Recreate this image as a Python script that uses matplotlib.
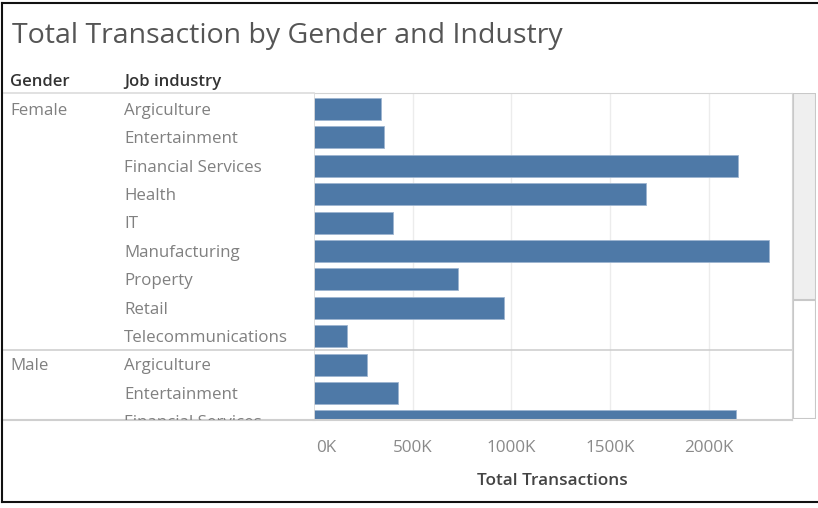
import matplotlib.pyplot as plt
import matplotlib.transforms as mtransforms
from matplotlib.patches import Rectangle
from matplotlib.lines import Line2D

plt.rcParams['font.family'] = ['Open Sans', 'DejaVu Sans']

generos = ["Female", "Male"]
industrias = ["Argiculture", "Entertainment", "Financial Services", "Health", "IT",
              "Manufacturing", "Property", "Retail", "Telecommunications"]
# total de transacciones (miles)
female_k = [341, 356, 2147, 1683, 399, 2306, 728, 965, 169]
male_k = [267, 426, 2139]
ticks_k = [0, 500, 1000, 1500, 2000]

W, H = 818, 508
fig = plt.figure(figsize=(W / 100, H / 100), dpi=100)


def caja(x0, y0, x1, y1):
    # pixeles (origen arriba-izquierda) -> fraccion de figura
    return [x0 / W, 1 - y1 / H, (x1 - x0) / W, (y1 - y0) / H]


fila0, paso = 109, 28.4
top, bottom = 93, 419.5
y_top = -0.5 - (fila0 - paso / 2 - top) / paso
y_bot = (bottom - fila0) / paso

filas = [(g, ind, v) for g, vals in zip(generos, [female_k, male_k])
         for ind, v in zip(industrias, vals)]
pos = list(range(len(filas)))
valores = [f[2] for f in filas]

ax = fig.add_axes(caja(314, top, 791.5, bottom))
ax.barh(pos, valores, height=0.78, color="#4e79a7", edgecolor="#9db5d0", linewidth=0.6, zorder=3)
ax.set_xlim(0, (791.5 - 314) / 0.1973)
ax.set_ylim(y_bot, y_top)
for t in ticks_k[1:]:
    ax.axvline(t, color="#ececec", lw=1, zorder=1)
ax.axvline(0, color="#d9d9d9", lw=1.2, zorder=4)
ax.set_xticks([])
ax.set_yticks([])
for s in ["left", "bottom"]:
    ax.spines[s].set_visible(False)
for s in ["top", "right"]:
    ax.spines[s].set_color("#d4d4d4")
ax.axhline(len(female_k) - 0.5, color="#cfcfcf", lw=1.2, zorder=4)
ax.axhline(y_bot, color="#cfcfcf", lw=1.5, zorder=4, clip_on=False)

# cabeceras de filas
axl = fig.add_axes(caja(2, top, 314, bottom))
axl.set_xlim(2, 314)
axl.set_ylim(y_bot, y_top)
axl.axis("off")
axl.axhline(y_top, color="#dcdcdc", lw=1.2, clip_on=False)
axl.axhline(len(female_k) - 0.5, color="#cfcfcf", lw=1.2)
axl.axhline(y_bot, color="#cfcfcf", lw=1.5, clip_on=False)
visto = set()
for i, (g, ind, v) in enumerate(filas):
    if g not in visto:
        visto.add(g)
        axl.text(10, i + 0.06, g, color="#808080", fontsize=12.2, va="center", ha="left",
                 clip_on=True)
    axl.text(124, i + 0.06, ind, color="#808080", fontsize=12.2, va="center", ha="left",
             clip_on=True)

# etiquetas del eje x
tr = mtransforms.blended_transform_factory(ax.transData, fig.transFigure)
for t in ticks_k:
    ha = "left" if t == 0 else "center"
    x = t if t else 10
    fig.text(x, 1 - 448 / H, f"{t}K", transform=tr, ha=ha, va="center",
             color="#8a8a8a", fontsize=12.3)
fig.text(552 / W, 1 - 481 / H, "Total Transactions", ha="center", va="center",
         color="#444444", fontsize=12.4, fontweight="semibold")

fig.text(12 / W, 1 - 36 / H, "Total Transaction by Gender and Industry", ha="left", va="center",
         color="#555555", fontsize=20.5)
fig.text(10 / W, 1 - 82 / H, "Gender", ha="left", va="center", color="#333333",
         fontsize=12, fontweight="semibold")
fig.text(124 / W, 1 - 82 / H, "Job industry", ha="left", va="center", color="#333333",
         fontsize=12, fontweight="semibold")

# barra de desplazamiento
sb = fig.add_axes(caja(793, top, 816, bottom - 1))
sb.set_xlim(0, 1)
sb.set_ylim(1, 0)
sb.axis("off")
sb.add_patch(Rectangle((0, 0), 1, 1, facecolor="white", edgecolor="#c8c8c8", lw=1.5))
sb.add_patch(Rectangle((0, 0), 1, (300 - top) / (bottom - 1 - top), facecolor="#efefef",
                       edgecolor="#c8c8c8", lw=1.5))

# marco exterior
for xs, ys in [([2, 2], [3, 502]), ([2, 818], [3, 3]), ([2, 818], [502, 502])]:
    fig.add_artist(Line2D([x / W for x in xs], [1 - y / H for y in ys], color="#111111", lw=1.5))

fig.savefig("out.png", dpi=100)
